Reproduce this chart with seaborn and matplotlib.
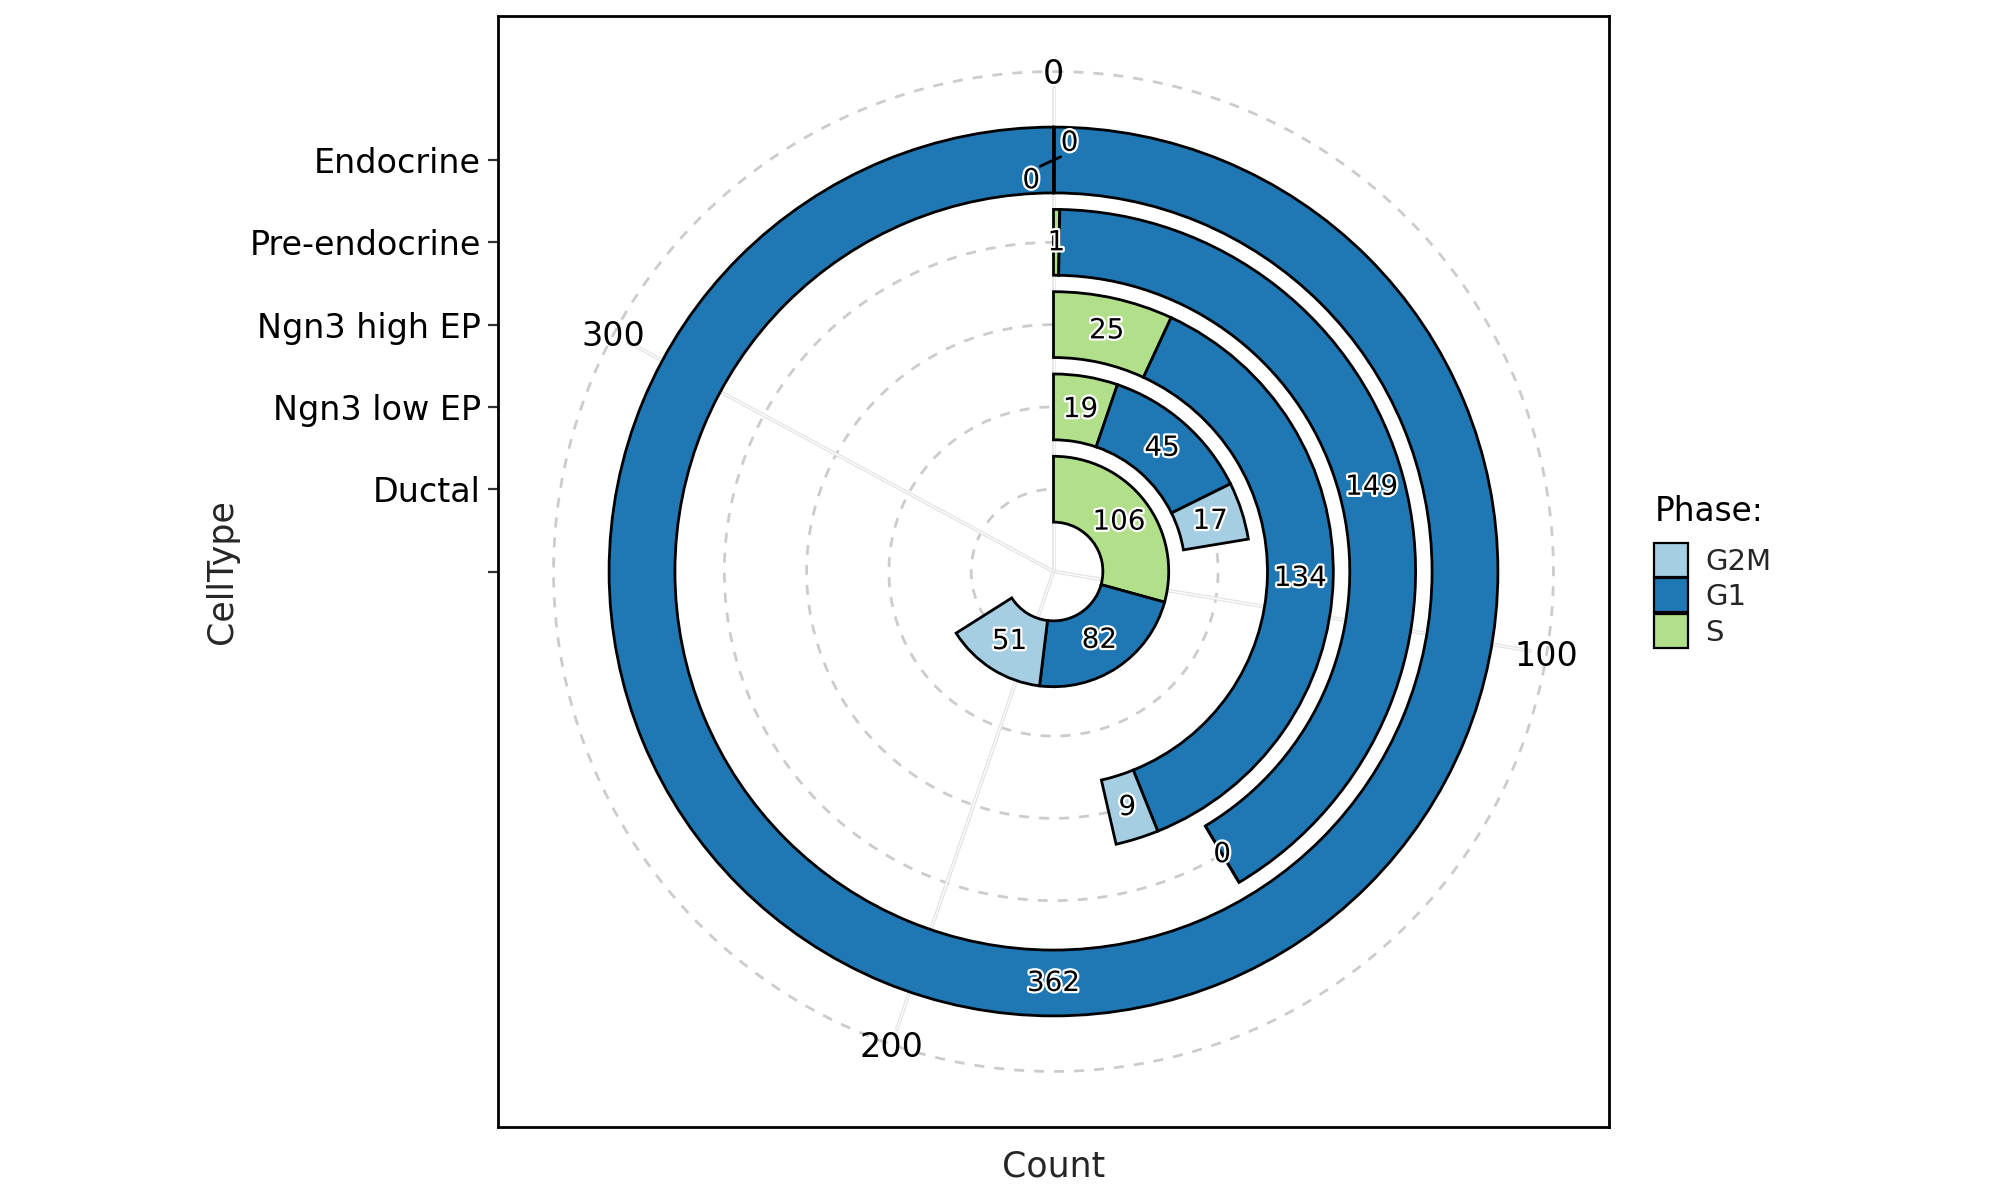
import matplotlib
matplotlib.use('Agg')

import numpy as np
import pandas as pd
import matplotlib.pyplot as plt
import matplotlib.patheffects as pe
from matplotlib.patches import Patch
import seaborn as sns

# counts per cell type and cell-cycle phase
cell_types = ["Ductal", "Ngn3 low EP", "Ngn3 high EP", "Pre-endocrine", "Endocrine"]
phases = ["G2M", "G1", "S"]
g2m_counts = [51, 17, 9, 0, 0]
g1_counts = [82, 45, 134, 149, 362]
s_counts = [106, 19, 25, 1, 0]
theta_breaks = [0, 100, 200, 300]

sns.set_theme(style="white")
plt.rcParams['font.family'] = ['DejaVu Sans']
palette = dict(zip(phases, sns.color_palette("Paired", 3)))

df = pd.DataFrame({"CellType": cell_types, "G2M": g2m_counts,
                   "G1": g1_counts, "S": s_counts})
theta_max = df[phases].sum(axis=1).max()
bar_w = 0.8
n = len(cell_types)
r_top = n + bar_w / 2          # outer edge of the last ring -> 0.4 of panel
r_lim = r_top / 0.4 * 0.5      # panel half size
r_outer = r_top / 0.4 * 0.45   # outer grid circle / theta labels


def to_theta(v):
    return np.asarray(v, dtype=float) / theta_max * 2 * np.pi


fig = plt.figure(figsize=(10, 6), dpi=200)
rect = [498 / 2000, 1 - 1127 / 1200, 1111 / 2000, 1111 / 1200]

# cartesian frame with the radial (CellType) axis
ax = fig.add_axes(rect)
ax.set_xlim(-r_lim, r_lim)
ax.set_ylim(-r_lim, r_lim)
ax.set_xticks([])
ax.set_yticks(range(n + 1))
ax.set_yticklabels([""] + cell_types)
ax.tick_params(axis='y', length=3.6, width=0.8, color='#333333', pad=2.5,
               labelsize=12, labelcolor='black', left=True)
for sp in ax.spines.values():
    sp.set_visible(True)
    sp.set_color('black')
    sp.set_linewidth(1.0)
ax.set_xlabel("Count", fontsize=12.5, labelpad=8)
ax.set_ylabel("CellType", fontsize=12.5, labelpad=4)

# polar panel
axp = fig.add_axes(rect, projection='polar')
axp.set_theta_zero_location('N')
axp.set_theta_direction(-1)
axp.set_ylim(0, r_lim)
axp.axis('off')

# grid
circ = np.linspace(0, 2 * np.pi, 400)
for r in list(range(1, n + 1)) + [r_outer]:
    axp.plot(circ, np.full_like(circ, r), color='#cccccc', lw=1.0,
             ls=(0, (3.6, 3.6)), zorder=1)
for b in theta_breaks:
    t = to_theta(b)
    axp.plot([t, t], [0, r_outer - 0.2], color='white', lw=0.45, zorder=1,
             path_effects=[pe.Stroke(linewidth=1.3, foreground='#e2e2e2'), pe.Normal()])
    axp.annotate(str(b), (t, r_outer), xytext=(0, -1), textcoords='offset points',
                 ha='center', va='center', fontsize=12, color='black')

# stacked bars: S at the base, then G1, then G2M
stack_order = ["S", "G1", "G2M"]
# repelled labels for the overlapping zeros: (offset in points, leader anchor on label)
label_nudge = {("Endocrine", "S"): ((5.8, 6.2), (0, 0)),
               ("Endocrine", "G2M"): ((-8.0, -7.3), (1, 1))}
outline = [pe.withStroke(linewidth=1.6, foreground='white')]
for i, ct in enumerate(cell_types):
    r = i + 1
    start = 0
    for ph in stack_order:
        v = df.loc[i, ph]
        axp.bar(to_theta(start), bar_w, width=to_theta(v), bottom=r - bar_w / 2,
                align='edge', color=palette[ph], edgecolor='black', lw=1.0, zorder=2)
        mid = to_theta(start + v / 2)
        if (ct, ph) in label_nudge:
            off, rel = label_nudge[(ct, ph)]
            axp.annotate(str(v), (mid, r), xytext=off,
                         textcoords='offset points', ha='center', va='center',
                         fontsize=10, color='black', zorder=4, path_effects=outline,
                         arrowprops=dict(arrowstyle='-', color='black', lw=1.0,
                                         shrinkA=0, shrinkB=0, relpos=rel,
                                         patchA=None))
        else:
            axp.text(mid, r, str(v), ha='center', va='center', fontsize=10,
                     color='black', zorder=4, path_effects=outline)
        start += v

# legend
handles = [Patch(facecolor=palette[p], edgecolor='black', lw=0.8) for p in phases]
fig.text(1655 / 2000, 1 - 521 / 1200, "Phase:", fontsize=11.8, ha='left',
         va='baseline', color='black')
fig.legend(handles, phases, loc='upper left',
           bbox_to_anchor=(1654 / 2000, 1 - 543 / 1200), frameon=False,
           fontsize=10.5, handlelength=1.166, handleheight=1.417,
           labelspacing=0.05, handletextpad=0.6, borderpad=0, borderaxespad=0)

fig.savefig("out.png", dpi=200)
